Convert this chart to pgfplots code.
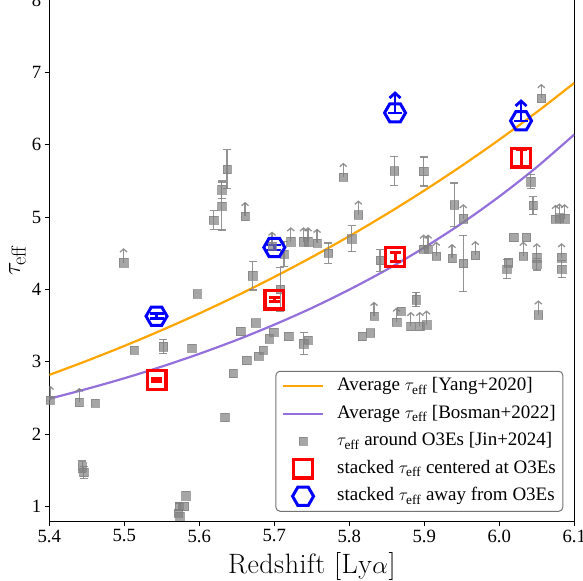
\documentclass[border=0pt]{standalone}
\usepackage{amsmath}
\usepackage{fontspec}
\setmainfont{Liberation Serif}
\usepackage{pgfplots}
\usepackage{pgfplotstable}
\pgfplotsset{compat=1.18}
\usetikzlibrary{arrows.meta}

\definecolor{mporange}{HTML}{FFA500}
\definecolor{mppurple}{HTML}{9370DB}
\definecolor{mpgray}{HTML}{808080}

\pgfdeclareplotmark{hexa}{%
  \pgfpathmoveto{\pgfpointpolar{0}{\pgfplotmarksize}}%
  \pgfpathlineto{\pgfpointpolar{60}{\pgfplotmarksize}}%
  \pgfpathlineto{\pgfpointpolar{120}{\pgfplotmarksize}}%
  \pgfpathlineto{\pgfpointpolar{180}{\pgfplotmarksize}}%
  \pgfpathlineto{\pgfpointpolar{240}{\pgfplotmarksize}}%
  \pgfpathlineto{\pgfpointpolar{300}{\pgfplotmarksize}}%
  \pgfpathclose
  \pgfusepathqstroke}

\pgfplotstableread{
z t
5.401 2.47
5.440 2.44
5.499 4.37
5.661 5.01
5.697 4.60
5.722 4.66
5.739 4.66
5.745 4.66
5.757 4.64
5.792 5.55
5.812 5.03
5.833 3.63
5.863 3.55
5.882 3.49
5.894 3.49
5.903 3.51
5.899 4.56
5.905 4.56
5.916 4.46
5.937 4.43
5.952 4.98
5.968 4.47
6.032 4.46
6.050 4.44
6.083 4.44
6.052 3.65
6.056 6.64
6.075 4.97
6.080 4.99
6.087 4.98
}\lowlims

\pgfplotstableread{
z t e
5.444 1.55 0.08
5.446 1.47 0.08
5.552 3.21 0.10
5.573 1.00 0.05
5.619 4.96 0.13
5.630 5.15 0.33
5.630 5.38 0.12
5.637 5.66 0.27
5.671 4.19 0.20
5.708 4.00 0.30
5.713 4.49 0.17
5.739 3.25 0.15
5.772 4.50 0.14
5.803 4.70 0.18
5.841 4.40 0.15
5.860 5.64 0.20
5.889 3.86 0.10
5.899 5.63 0.20
5.940 5.17 0.30
5.952 4.36 0.39
6.010 4.28 0.13
6.042 5.49 0.10
6.045 5.16 0.12
6.050 4.35 0.08
6.083 4.28 0.12
}\witherr

\pgfplotstableread{
z t
5.461 2.43
5.513 3.16
5.590 3.19
5.597 3.94
5.582 1.15
5.580 1.00
5.572 0.91
5.574 0.87
5.634 2.23
5.645 2.84
5.663 3.02
5.679 3.08
5.685 3.16
5.693 3.32
5.699 3.41
5.655 3.42
5.675 3.54
5.719 3.35
5.745 3.30
5.817 3.35
5.828 3.40
5.869 3.70
6.012 4.37
6.019 4.72
6.036 4.72
}\plain

\pgfplotstableread{
z t e
5.543 2.75 0.02
5.700 3.86 0.025
5.861 4.45 0.06
6.029 5.82 0.12
}\reds

\pgfplotstableread{
z t e
5.543 3.63 0.035
5.700 4.58 0.035
5.861 6.44 0.0
6.029 6.33 0.0
}\blues

\pgfplotstableread{
z t
5.861 6.44
6.029 6.33
}\bluelims

\begin{document}
\begin{tikzpicture}
\begin{axis}[
  name=ax,
  scale only axis,
  width=525pt, height=521.7pt,
  xmin=5.4, xmax=6.1, ymin=0.79, ymax=8,
  xtick={5.4,5.5,5.6,5.7,5.8,5.9,6.0,6.1},
  xticklabels={5.4,5.5,5.6,5.7,5.8,5.9,6.0,6.1},
  ytick={1,2,3,4,5,6,7,8},
  yticklabels={1,2,3,4,5,6,7,8},
  tick pos=left,
  tick align=outside,
  major tick length=4.5pt,
  tick style={black, line width=1pt},
  axis line style={line width=1pt},
  ticklabel style={font=\fontsize{18.7}{22}\selectfont},
  /pgf/number format/assume math mode=true,
  xlabel={\fontfamily{lmr}\selectfont R\kern0.5pt e\kern0.5pt d\kern0.5pt s\kern0.5pt h\kern0.5pt i\kern0.5pt f\kern0.5pt t\hspace{9pt}[\kern0.5pt L\kern0.5pt y\kern0.5pt$\alpha$\kern0.5pt]},
  ylabel={$\tau_{\text{\fontfamily{lmr}\selectfont eff}}$},
  xlabel style={font=\fontsize{28}{34}\selectfont, at={(axis description cs:0.5,0)}, anchor=base, yshift=-52pt},
  ylabel style={font=\fontsize{29}{35}\selectfont, at={(axis description cs:0,0.5)}, anchor=center, yshift=31.8pt},
  legend cell align=left,
  legend image code/.code={\draw[sharp corners, mark repeat=2, mark phase=2, #1] plot coordinates {(0pt,0pt) (20pt,0pt) (40pt,0pt)};},
  legend style={at={(0.979,0.019)}, anchor=south east, draw=black!55, line width=1pt,
    rounded corners=4pt, fill=white, fill opacity=0.8, text opacity=1,
    font=\fontsize{19}{22}\selectfont, row sep=7.5pt, inner xsep=6pt, inner ysep=5pt,
    nodes={inner sep=1pt, text height=13.5pt, text depth=4.5pt, anchor=west},
    /tikz/every odd column/.append style={column sep=12pt}},
]
\addplot[mporange, line width=2.2pt, smooth, mark=none] coordinates {
(5.40,2.819)(5.45,3.013)(5.50,3.219)(5.55,3.437)(5.60,3.668)(5.65,3.913)(5.70,4.172)(5.75,4.446)(5.80,4.736)(5.85,5.043)(5.90,5.367)(5.95,5.709)(6.00,6.070)(6.05,6.451)(6.10,6.854)};
\addlegendentry{Average $\tau_{\text{eff}}$ [Yang+2020]}

\addplot[mppurple, line width=2.2pt, smooth, mark=none] coordinates {
(5.40,2.489)(5.45,2.625)(5.50,2.772)(5.55,2.934)(5.60,3.110)(5.65,3.302)(5.70,3.513)(5.75,3.743)(5.80,3.997)(5.85,4.274)(5.90,4.579)(5.95,4.914)(6.00,5.284)(6.05,5.691)(6.10,6.141)};
\addlegendentry{Average $\tau_{\text{eff}}$ [Bosman+2022]}

% gray points without error
\addplot[only marks, mark=square*, mark size=4.2pt, mark options={draw=mpgray, fill=mpgray, opacity=0.7, line width=0.4pt}]
  table[x=z, y=t] {\plain};
\addlegendentry{$\tau_{\text{eff}}$ around O3Es [Jin+2024]}

% lower limits
\addplot[forget plot, mpgray, opacity=0.85, line width=1.3pt, -{Straight Barb[length=3pt,width=7pt]}, quiver={u=0, v=0.2}]
  table[x=z, y=t] {\lowlims};
\addplot[forget plot, only marks, mark=square*, mark size=4.2pt, mark options={draw=mpgray, fill=mpgray, opacity=0.7, line width=0.4pt}]
  table[x=z, y=t] {\lowlims};

% with error bars
\addplot[forget plot, only marks, mark=square*, mark size=4.2pt, mark options={draw=mpgray, fill=mpgray, opacity=0.7, line width=0.4pt},
  error bars/.cd, y dir=both, y explicit,
  error bar style={mpgray, opacity=0.85, line width=1.3pt},
  error mark options={mpgray, opacity=0.85, line width=1.3pt, mark size=4pt, rotate=90}]
  table[x=z, y=t, y error=e] {\witherr};

% stacked centered
\addplot[only marks, mark=square, mark size=9.3pt, mark options={red, line width=3.3pt, line join=miter},
  error bars/.cd, y dir=both, y explicit,
  error bar style={red, line width=3pt},
  error mark options={red, line width=3pt, mark size=5.5pt, rotate=90}]
  table[x=z, y=t, y error=e] {\reds};
\addlegendentry{stacked $\tau_{\text{eff}}$ centered at O3Es}

% stacked away
\addplot[forget plot, blue, line width=2.8pt, -{Straight Barb[length=5pt,width=11pt]}, quiver={u=0, v=0.3}]
  table[x=z, y=t] {\bluelims};
\addplot[only marks, mark=hexa, mark size=10.5pt, mark options={blue, line width=3pt, line join=miter},
  error bars/.cd, y dir=both, y explicit,
  error bar style={blue, line width=2.5pt},
  error mark options={blue, line width=2.5pt, mark size=7pt, rotate=90}]
  table[x=z, y=t, y error=e] {\blues};
\addlegendentry{stacked $\tau_{\text{eff}}$ away from O3Es}
\end{axis}
\pgfresetboundingbox
\path ([xshift=-49.3pt, yshift=-59.3pt]ax.south west) rectangle ([xshift=8.7pt]ax.north east);
\end{tikzpicture}
\end{document}
